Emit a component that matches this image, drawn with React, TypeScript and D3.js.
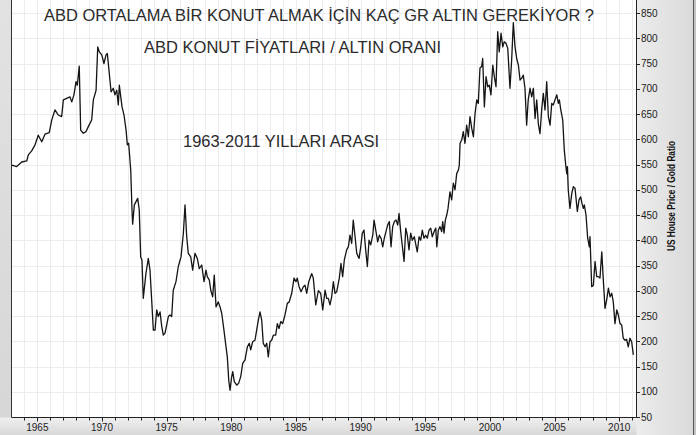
import React from "react";
import * as d3 from "d3";

// Decimal years and US house price / gold ratio
const years = [
  1963.02, 1963.4, 1963.79, 1964.18, 1964.3, 1964.56, 1964.82, 1965.07, 1965.34, 1965.59, 1965.92,
  1966.11, 1966.36, 1966.62, 1966.88, 1967.01, 1967.27, 1967.52, 1967.66, 1967.83, 1967.99, 1968.09,
  1968.24, 1968.35, 1968.55, 1968.76, 1968.94, 1969.2, 1969.33, 1969.54, 1969.67, 1969.79, 1969.98,
  1970.15, 1970.31, 1970.41, 1970.56, 1970.7, 1970.87, 1971.0, 1971.14, 1971.26, 1971.34, 1971.45,
  1971.55, 1971.7, 1971.86, 1971.96, 1972.06, 1972.22, 1972.32, 1972.37, 1972.5, 1972.76, 1972.88,
  1972.99, 1973.09, 1973.19, 1973.4, 1973.58, 1973.71, 1973.84, 1973.97, 1974.1, 1974.23, 1974.35,
  1974.49, 1974.62, 1974.74, 1974.87, 1975.0, 1975.13, 1975.26, 1975.39, 1975.51, 1975.72, 1975.9,
  1976.11, 1976.29, 1976.42, 1976.55, 1976.67, 1976.86, 1977.01, 1977.19, 1977.37, 1977.52, 1977.71,
  1977.89, 1978.04, 1978.14, 1978.3, 1978.41, 1978.56, 1978.68, 1978.82, 1978.99, 1979.13, 1979.26,
  1979.43, 1979.59, 1979.69, 1979.8, 1979.9, 1980.03, 1980.11, 1980.23, 1980.42, 1980.57, 1980.73,
  1980.88, 1981.06, 1981.24, 1981.39, 1981.5, 1981.65, 1981.83, 1981.96, 1982.09, 1982.22, 1982.35,
  1982.47, 1982.61, 1982.74, 1982.86, 1982.99, 1983.12, 1983.25, 1983.43, 1983.56, 1983.69, 1983.82,
  1983.97, 1984.15, 1984.33, 1984.48, 1984.67, 1984.85, 1985.0, 1985.1, 1985.24, 1985.39, 1985.57,
  1985.7, 1985.83, 1985.99, 1986.22, 1986.34, 1986.53, 1986.73, 1986.91, 1987.07, 1987.25, 1987.38,
  1987.5, 1987.63, 1987.76, 1987.89, 1988.02, 1988.15, 1988.35, 1988.48, 1988.61, 1988.74, 1988.92,
  1989.05, 1989.18, 1989.31, 1989.43, 1989.57, 1989.7, 1989.88, 1990.01, 1990.13, 1990.26, 1990.39,
  1990.52, 1990.65, 1990.78, 1990.94, 1991.04, 1991.19, 1991.32, 1991.45, 1991.58, 1991.71, 1991.83,
  1991.96, 1992.09, 1992.22, 1992.35, 1992.48, 1992.61, 1992.74, 1992.87, 1992.97, 1993.1, 1993.22,
  1993.36, 1993.49, 1993.61, 1993.74, 1993.87, 1994.0, 1994.15, 1994.28, 1994.38, 1994.52, 1994.65,
  1994.77, 1994.9, 1995.03, 1995.16, 1995.29, 1995.42, 1995.54, 1995.68, 1995.81, 1995.89, 1996.01,
  1996.14, 1996.27, 1996.35, 1996.45, 1996.55, 1996.66, 1996.76, 1996.91, 1997.04, 1997.17, 1997.3,
  1997.43, 1997.56, 1997.63, 1997.69, 1997.82, 1997.94, 1998.07, 1998.2, 1998.33, 1998.46, 1998.59,
  1998.72, 1998.85, 1998.98, 1999.1, 1999.23, 1999.36, 1999.44, 1999.57, 1999.7, 1999.83, 1999.95,
  2000.08, 2000.22, 2000.34, 2000.47, 2000.6, 2000.72, 2000.86, 2000.99, 2001.11, 2001.24, 2001.38,
  2001.55, 2001.68, 2001.81, 2001.94, 2002.07, 2002.2, 2002.33, 2002.46, 2002.58, 2002.71, 2002.84,
  2002.96, 2003.1, 2003.23, 2003.36, 2003.49, 2003.62, 2003.74, 2003.87, 2004.01, 2004.13, 2004.26,
  2004.39, 2004.52, 2004.65, 2004.78, 2004.9, 2005.03, 2005.17, 2005.29, 2005.37, 2005.48, 2005.63,
  2005.75, 2005.86, 2005.94, 2005.99, 2006.06, 2006.19, 2006.33, 2006.45, 2006.58, 2006.76, 2006.89,
  2007.02, 2007.12, 2007.22, 2007.3, 2007.43, 2007.56, 2007.69, 2007.74, 2007.87, 2008.0, 2008.13,
  2008.26, 2008.38, 2008.51, 2008.65, 2008.77, 2008.9, 2009.03, 2009.16, 2009.29, 2009.42, 2009.54,
  2009.67, 2009.81, 2009.93, 2010.06, 2010.19, 2010.31, 2010.45, 2010.57, 2010.7, 2010.83, 2010.96,
  2011.09,
];

const ratios = [
  549, 546, 555, 557, 569, 577, 589, 608, 595, 610, 613,
  638, 658, 648, 645, 678, 681, 684, 674, 688, 714, 707,
  745, 618, 612, 615, 625, 638, 678, 697, 783, 773, 767,
  750, 767, 770, 731, 694, 701, 688, 697, 668, 707, 684,
  664, 648, 618, 589, 592, 539, 460, 432, 470, 483, 460,
  367, 361, 285, 335, 364, 341, 282, 222, 222, 262, 249,
  258, 229, 212, 216, 232, 249, 252, 249, 301, 318, 348,
  367, 414, 470, 407, 374, 367, 341, 374, 364, 344, 351,
  318, 341, 328, 321, 301, 288, 331, 268, 278, 268, 255,
  222, 189, 169, 123, 103, 130, 140, 120, 113, 117, 130,
  156, 163, 189, 196, 183, 199, 202, 222, 242, 258, 242,
  196, 189, 196, 169, 199, 202, 212, 212, 235, 225, 239,
  235, 252, 275, 278, 295, 325, 318, 325, 308, 298, 308,
  311, 295, 318, 334, 325, 272, 300, 295, 262, 301, 285,
  285, 272, 288, 318, 295, 298, 325, 354, 328, 361, 381,
  387, 410, 394, 440, 407, 374, 364, 387, 414, 420, 381,
  348, 400, 391, 410, 440, 417, 397, 410, 404, 387, 404,
  417, 430, 437, 387, 427, 437, 440, 430, 453, 417, 390,
  358, 424, 410, 381, 414, 400, 407, 390, 377, 407, 400,
  420, 404, 410, 404, 420, 424, 407, 417, 424, 387, 420,
  427, 417, 437, 414, 440, 450, 463, 496, 480, 513, 500,
  532, 539, 549, 592, 599, 615, 592, 628, 605, 645, 622,
  605, 651, 678, 671, 741, 744, 760, 664, 724, 704, 707,
  688, 747, 724, 704, 813, 773, 810, 783, 793, 790, 780,
  701, 757, 831, 783, 760, 747, 717, 721, 727, 701, 628,
  678, 701, 684, 701, 641, 678, 631, 611, 661, 691, 658,
  714, 645, 628, 671, 668, 678, 688, 671, 678, 658, 638,
  579, 549, 532, 546, 499, 463, 493, 506, 503, 457, 480,
  486, 473, 463, 470, 450, 404, 387, 407, 308, 311, 358,
  328, 328, 325, 377, 321, 265, 282, 305, 288, 295, 278,
  235, 262, 252, 235, 232, 206, 202, 204, 189, 206, 199,
  173,
];

const yTicks = d3.range(50, 851, 50);
const xMajorTicks = [1965, 1970, 1975, 1980, 1985, 1990, 1995, 2000, 2005, 2010];
const xMinorTicks = d3.range(1964, 2012, 1);

const titleMain = "ABD ORTALAMA BİR KONUT ALMAK İÇİN KAÇ GR ALTIN GEREKİYOR ?";
const titleSub = "ABD KONUT FİYATLARI / ALTIN ORANI";
const titlePeriod = "1963-2011 YILLARI ARASI";
const yAxisTitle = "US House Price / Gold Ratio";

export default function App() {
  const W = 696;
  const H = 435;
  const x = d3.scaleLinear().domain([1963, 2011.25]).range([11.5, 635.4]);
  const y = d3.scaleLinear().domain([50, 875]).range([417, 0.4]);
  const data = years.map((yr, i) => ({ yr, v: ratios[i] }));
  const line = d3
    .line<{ yr: number; v: number }>()
    .x((d) => x(d.yr))
    .y((d) => y(d.v));

  const left = 11.5;
  const right = 636.5;
  const bottom = 417.5;
  const font = "'Liberation Sans', Arial, Helvetica, sans-serif";
  const axisFont = "'Liberation Sans', Tahoma, Arial, sans-serif";

  return (
    <svg
      width={W}
      height={H}
      style={{ position: "absolute", left: 0, top: 0, display: "block" }}
    >
      <defs>
        <linearGradient id="bgGrad" x1="0" y1="0" x2="0" y2="1">
          <stop offset="0" stopColor="#e2e2e2" />
          <stop offset="1" stopColor="#d6d6d6" />
        </linearGradient>
        <linearGradient id="botGrad" x1="0" y1="0" x2="0" y2="1">
          <stop offset="0" stopColor="#f0f0f0" />
          <stop offset="1" stopColor="#d8d8d8" />
        </linearGradient>
        <linearGradient id="rightGrad" x1="0" y1="0" x2="1" y2="0">
          <stop offset="0" stopColor="#ececec" />
          <stop offset="1" stopColor="#dadada" />
        </linearGradient>
      </defs>
      <rect x={0} y={0} width={W} height={H} fill="url(#bgGrad)" />
      <rect x={0} y={bottom} width={W} height={H - bottom} fill="url(#botGrad)" />
      <rect x={right} y={0} width={693 - right} height={H} fill="url(#rightGrad)" />
      <rect x={693.5} y={0} width={H} height={H} fill="#c4c4c4" />
      <line x1={693.5} x2={693.5} y1={0} y2={H} stroke="#555" strokeWidth={1} />

      {/* plot area */}
      <rect x={left} y={0} width={right - left} height={bottom} fill="#ffffff" />

      {/* grid */}
      {xMinorTicks.map((t) => (
        <line
          key={"gx" + t}
          x1={Math.round(x(t)) + 0.5}
          x2={Math.round(x(t)) + 0.5}
          y1={0}
          y2={bottom}
          stroke="#ebebf0"
          strokeWidth={1}
        />
      ))}
      {yTicks
        .filter((t) => t > 50)
        .map((t) => (
          <line
            key={"gy" + t}
            x1={left}
            x2={right}
            y1={Math.round(y(t)) + 0.5}
            y2={Math.round(y(t)) + 0.5}
            stroke="#ebebf0"
            strokeWidth={1}
          />
        ))}

      {/* texts */}
      <text
        x={44}
        y={21}
        fontFamily={font}
        fontSize={17}
        fill="#2b2b2b"
        textLength={550}
        lengthAdjust="spacingAndGlyphs"
      >
        {titleMain}
      </text>
      <text
        x={144}
        y={53}
        fontFamily={font}
        fontSize={16}
        fill="#2b2b2b"
        textLength={297}
        lengthAdjust="spacingAndGlyphs"
      >
        {titleSub}
      </text>
      <text
        x={183}
        y={147}
        fontFamily={font}
        fontSize={16}
        fill="#2b2b2b"
        textLength={196}
        lengthAdjust="spacingAndGlyphs"
      >
        {titlePeriod}
      </text>

      {/* data line */}
      <path
        d={line(data) || ""}
        fill="none"
        stroke="#141414"
        strokeWidth={1.3}
        strokeLinejoin="round"
      />

      {/* frame / axes */}
      <line x1={left} x2={left} y1={0} y2={bottom} stroke="#333" strokeWidth={1} />
      <line x1={left} x2={right} y1={bottom} y2={bottom} stroke="#222" strokeWidth={1} />
      <line x1={right} x2={right} y1={0} y2={bottom} stroke="#222" strokeWidth={1} />

      {/* x ticks */}
      {xMinorTicks.map((t) => {
        const major = xMajorTicks.includes(t);
        const px = Math.round(x(t)) + 0.5;
        return (
          <line
            key={"tx" + t}
            x1={px}
            x2={px}
            y1={bottom}
            y2={bottom + (major ? 4 : 3)}
            stroke="#222"
            strokeWidth={1}
          />
        );
      })}
      {xMajorTicks.map((t) => (
        <text
          key={"lx" + t}
          x={x(t)}
          y={431}
          textAnchor="middle"
          fontFamily={axisFont}
          fontSize={10}
          fill="#222"
        >
          {t}
        </text>
      ))}

      {/* y ticks */}
      {yTicks.map((t) => (
        <g key={"ty" + t}>
          <line
            x1={right}
            x2={right + 3.5}
            y1={Math.round(y(t)) + 0.5}
            y2={Math.round(y(t)) + 0.5}
            stroke="#222"
            strokeWidth={1}
          />
          <text
            x={641}
            y={y(t)}
            dy="0.35em"
            fontFamily={axisFont}
            fontSize={10}
            fill="#222"
          >
            {t}
          </text>
        </g>
      ))}

      <text
        transform={`translate(675, 196) rotate(-90)`}
        textAnchor="middle"
        fontFamily={font}
        fontWeight="bold"
        fontSize={10.5}
        fill="#111"
        textLength={110}
        lengthAdjust="spacingAndGlyphs"
      >
        {yAxisTitle}
      </text>
    </svg>
  );
}
